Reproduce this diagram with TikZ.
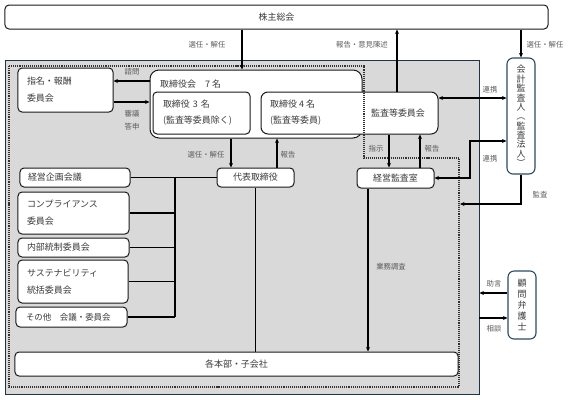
\documentclass[tikz,border=0pt]{standalone}
\usepackage{fontspec}
\setmainfont{Noto Sans CJK JP}
\usetikzlibrary{arrows.meta}
\definecolor{framegray}{HTML}{D9D9D9}
\definecolor{framenavy}{HTML}{1F3347}
\definecolor{txtc}{HTML}{3A3A3A}
\definecolor{lblc}{HTML}{5A5A5A}
\definecolor{slate}{HTML}{2E4A5E}
\begin{document}
\begin{tikzpicture}[x=1bp,y=-1bp,
  box/.style={draw=black!90, fill=white, rounded corners=4bp, line width=1bp, inner sep=0pt,
    font=\fontsize{9}{16}\selectfont, text=txtc},
  lbox/.style={box, align=left, inner xsep=#1},
  vbox/.style={draw=slate, fill=white, rounded corners=6bp, line width=1.1bp, inner sep=0pt,
    align=center, text=txtc},
  txt/.style={font=\fontsize{9}{16}\selectfont, text=txtc, inner sep=0pt},
  lbl/.style={font=\fontsize{7.4}{13}\selectfont, text=lblc, inner sep=0pt, align=center},
  arr/.style={-{Stealth[length=4.5bp,width=4bp]}, line width=1.1bp},
  darr/.style={{Stealth[length=4.5bp,width=4bp]}-{Stealth[length=4.5bp,width=4bp]}, line width=1.1bp},
  ln/.style={line width=1.2bp},
  dots/.style={densely dotted, line width=1.1bp, draw=black!80}
]
\useasboundingbox (0,0) rectangle (573,399);

% outer frame
\node[draw=framenavy, fill=framegray, line width=0.9bp, minimum width=474bp, minimum height=334bp, inner sep=0pt] (frame) at (242,227) {};

% top
\node[box, minimum width=543bp, minimum height=24bp] (kab) at (276.5,17) {株主総会};

% board of directors
\node[box, rounded corners=9bp, minimum width=212bp, minimum height=68bp] (board) at (256,104) {};
\node[txt, anchor=west] (boardtitle) at (160,84) {取締役会　7 名};
\node[lbox=10bp, text width=77bp, minimum height=42bp] (dir3) at (201.5,113) {取締役 3 名\\(監査等委員除く)};
\node[box, rounded corners=7bp, minimum width=177bp, minimum height=42bp] (kansa) at (349.5,113) {};
\node[txt, anchor=west, align=left] (dir4) at (270,113) {取締役 4 名\\(監査等委員)};
\node[txt] (kansatxt) at (398,113) {監査等委員会};

% nomination
\node[lbox=9bp, text width=77bp, minimum height=44bp, font=\fontsize{9}{17}\selectfont] (shimei) at (65.5,90) {指名・報酬\\委員会};

% representative director etc
\node[box, minimum width=77bp, minimum height=19bp] (daihyo) at (255.5,177.5) {代表取締役};
\node[box, minimum width=77bp, minimum height=20bp] (keieikansa) at (395.5,178) {経営監査室};

% left column
\node[lbox=8bp, text width=94bp, minimum height=19bp] (keiei) at (75,177.5) {経営企画会議};
\node[lbox=9bp, text width=93bp, minimum height=42bp, font=\fontsize{9}{17}\selectfont] (comp) at (73.5,213) {コンプライアンス\\委員会};
\node[lbox=9bp, text width=93bp, minimum height=19bp] (naibu) at (73.5,247.5) {内部統制委員会};
\node[lbox=9bp, text width=92bp, minimum height=43bp, font=\fontsize{9}{17}\selectfont] (sust) at (73,281.5) {サステナビリティ\\統括委員会};
\node[lbox=10bp, text width=91bp, minimum height=20bp, font=\fontsize{8.5}{16}\selectfont] (sonota) at (71.5,317) {その他　会議・委員会};

% bottom
\node[box, minimum width=443bp, minimum height=24bp] (honbu) at (236.5,364) {各本部・子会社};

% external
\node[vbox, minimum width=28bp, minimum height=116bp, font=\fontsize{9}{9.4}\selectfont] (aud) at (521,116) {会\\計\\監\\査\\人\\︵\\監\\査\\法\\人\\︶};
\node[vbox, minimum width=28bp, minimum height=68bp, font=\fontsize{9}{11}\selectfont] (komon) at (522,305) {顧\\問\\弁\\護\\士};

% dotted boundary
\draw[dots] (9,66) -- (364,66) -- (364,158) -- (459,158) -- (459,387) -- (9,387) -- cycle;

% helper coordinates
\coordinate (xa) at (242,0);
\coordinate (xb) at (397,0);
\coordinate (xc) at (389,0);
\coordinate (xd) at (420,0);
\coordinate (xe) at (368,0);
\coordinate (xf) at (231,0);
\coordinate (xg) at (277,0);
\coordinate (bus) at (175,0);
\coordinate (y98) at (0,98);
\coordinate (r1) at (470,141);
\coordinate (r2) at (470,178);
\coordinate (y204) at (0,204);
\coordinate (kansaend) at (460,204);
\coordinate (y293) at (0,293);
\coordinate (y318) at (0,318);
\coordinate (y81) at (0,81);
\coordinate (y102) at (0,102);

% connectors
\draw[arr] (kab.south -| xa) -- (board.north -| xa);
\node[lbl] (l1) at (207,45) {選任・解任};
\draw[arr] (kansa.north -| xb) -- (kab.south -| xb);
\node[lbl] (l2) at (362,45) {報告・意見陳述};
\draw[arr] (kab.south -| aud.north) -- (aud.north);
\node[lbl] (l3) at (545,45) {選任・解任};
\draw[darr] (kansa.east |- y98) -- (aud.west |- y98);
\node[lbl] (l4) at (490,90) {連携};
\draw[darr] (aud.west |- r1) -- (r1) -- (r2) -- (keieikansa.east);
\node[lbl] (l5) at (490,159) {連携};
\draw[arr] (kansa.south -| xc) -- (keieikansa.north -| xc);
\node[lbl] (l6) at (376,149) {指示};
\draw[arr] (keieikansa.north -| xd) -- (kansa.south -| xd);
\node[lbl] (l7) at (432,149) {報告};
\draw[arr] (aud.south) -- (aud.south |- y204) -- (kansaend);
\node[lbl] (l8) at (540,195) {監査};
\draw[arr] (keieikansa.south -| xe) -- (honbu.north -| xe);
\node[lbl] (l9) at (391,267) {業務調査};
\draw[arr] (komon.west |- y293) -- (frame.east |- y293);
\node[lbl] (l10) at (494,284) {助言};
\draw[arr] (frame.east |- y318) -- (komon.west |- y318);
\node[lbl] (l11) at (494,329) {相談};
\draw[arr] (board.west |- y81) -- (shimei.east |- y81);
\node[lbl] (l12) at (132,72) {諮問};
\draw[arr] (shimei.east |- y102) -- (board.west |- y102);
\node[lbl] (l13) at (132,120.5) {審議\\答申};
\draw[arr] (board.south -| xf) -- (daihyo.north -| xf);
\node[lbl] (l14) at (206,155) {選任・解任};
\draw[arr] (daihyo.north -| xg) -- (board.south -| xg);
\node[lbl] (l15) at (288,155) {報告};

% management bus
\draw[ln] (keiei.east) -- (daihyo.west);
\draw[ln] (bus |- keiei.east) -- (bus |- sonota.east);
\draw[ln] (comp.east) -- (bus |- comp.east);
\draw[ln] (naibu.east) -- (bus |- naibu.east);
\draw[ln] (sust.east) -- (bus |- sust.east);
\draw[ln] (sonota.east) -- (bus |- sonota.east);
\draw[ln] (daihyo.south) -- (honbu.north -| daihyo.south);
\end{tikzpicture}
\end{document}
